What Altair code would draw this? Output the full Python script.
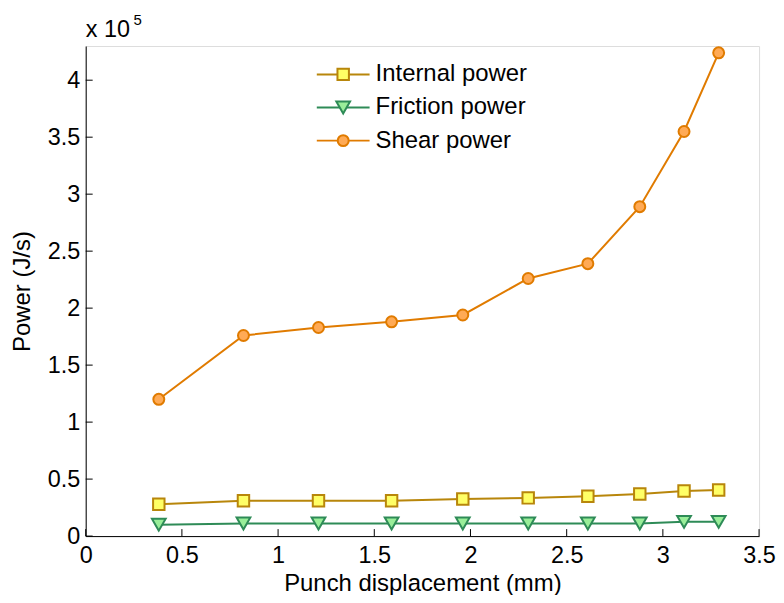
import altair as alt
import pandas as pd

# ---- data (power values in units of 10^5 J/s) ----
x_disp = [0.38, 0.82, 1.21, 1.59, 1.96, 2.30, 2.61, 2.88, 3.11, 3.29]
internal = [0.28, 0.31, 0.31, 0.31, 0.325, 0.335, 0.35, 0.37, 0.395, 0.405]
friction = [0.10, 0.11, 0.11, 0.11, 0.11, 0.11, 0.11, 0.11, 0.125, 0.125]
shear = [1.20, 1.76, 1.83, 1.88, 1.94, 2.26, 2.39, 2.89, 3.55, 4.24]
series_names = ["Internal power", "Friction power", "Shear power"]
x_ticks = [0, 0.5, 1, 1.5, 2, 2.5, 3, 3.5]
y_ticks = [0, 0.5, 1, 1.5, 2, 2.5, 3, 3.5, 4]
x_title = "Punch displacement (mm)"
y_title = "Power (J/s)"
mult_text = ["x 10"]
exp_text = ["5"]

# ---- styles ----
line_colors = ["#B8860B", "#2E8B57", "#E07B00"]
fill_colors = ["#FFFF66", "#99EE99", "#FFAA55"]
shapes = ["square", "triangle-down", "circle"]
sizes = [132, 190, 121]
FONT = "Liberation Sans"
W, H = 676, 492

values = [internal, friction, shear]
rows = []
for name, vals in zip(series_names, values):
    for i, (xv, yv) in enumerate(zip(x_disp, vals)):
        rows.append({"series": name, "x": xv, "y": yv, "i": i})
df = pd.DataFrame(rows)

xs = alt.Scale(domain=[0, 3.5], nice=False, zero=False)
ys = alt.Scale(domain=[0, 4.3], nice=False, zero=False)
color_scale = alt.Scale(domain=series_names, range=line_colors)
fill_scale = alt.Scale(domain=series_names, range=fill_colors)
shape_scale = alt.Scale(domain=series_names, range=shapes)

x_axis = alt.Axis(
    values=x_ticks, format="~g", ticks=False, tickSize=0, grid=False,
    domainColor="black", domainWidth=1, labelFontSize=23.5, labelColor="black",
    labelPadding=8, labelFlush=False, labelOverlap=False, labelFont=FONT,
    title=x_title, titleFontSize=24, titleFontWeight="normal", titleColor="black",
    titleFont=FONT, titleY=55, titleBaseline="alphabetic",
)
y_axis = alt.Axis(
    values=y_ticks, format="~g", ticks=False, tickSize=0, grid=False,
    domainColor="black", domainWidth=1, labelFontSize=23.5, labelColor="black",
    labelPadding=6, labelFlush=False, labelOverlap=False, labelFont=FONT,
    title=y_title, titleFontSize=24, titleFontWeight="normal", titleColor="black",
    titleFont=FONT, titleX=-56, titleY=H / 2, titleBaseline="alphabetic",
)

lines = alt.Chart(df).mark_line(strokeWidth=2).encode(
    x=alt.X("x:Q", scale=xs, axis=x_axis),
    y=alt.Y("y:Q", scale=ys, axis=y_axis),
    color=alt.Color("series:N", scale=color_scale, legend=None),
    order="i:Q",
)

point_layers = []
for name, sz in zip(series_names, sizes):
    point_layers.append(
        alt.Chart(df[df["series"] == name]).mark_point(
            filled=True, size=sz, strokeWidth=2, opacity=1
        ).encode(
            x=alt.X("x:Q", scale=xs, axis=x_axis),
            y=alt.Y("y:Q", scale=ys, axis=y_axis),
            fill=alt.Fill("series:N", scale=fill_scale, legend=None),
            stroke=alt.Stroke("series:N", scale=color_scale, legend=None),
            shape=alt.Shape("series:N", scale=shape_scale, legend=None),
        )
    )

# inward tick marks (MATLAB style)
ytick_layer = alt.Chart(pd.DataFrame({"y": y_ticks})).mark_rule(
    color="black", strokeWidth=1
).encode(y=alt.Y("y:Q", scale=ys, axis=y_axis), x=alt.value(0), x2=alt.value(7))
xtick_layer = alt.Chart(pd.DataFrame({"x": x_ticks})).mark_rule(
    color="black", strokeWidth=1
).encode(x=alt.X("x:Q", scale=xs, axis=x_axis), y=alt.value(H), y2=alt.value(H - 7))

mult_layer = alt.Chart(pd.DataFrame({"t": mult_text})).mark_text(
    align="left", baseline="alphabetic", fontSize=23.5, font=FONT, color="black"
).encode(x=alt.value(0), y=alt.value(-9), text="t:N")
exp_layer = alt.Chart(pd.DataFrame({"t": exp_text})).mark_text(
    align="left", baseline="alphabetic", fontSize=15, font=FONT, color="black"
).encode(x=alt.value(48), y=alt.value(-21.5), text="t:N")

main = alt.layer(lines, *point_layers, ytick_layer, xtick_layer, mult_layer, exp_layer)

# custom legend (line + marker + label), no frame
leg_df = pd.DataFrame({"series": series_names, "row": list(range(len(series_names)))})
ly = alt.Y("row:Q", scale=alt.Scale(domain=[0, 2], range=[28.5, 95], nice=False, zero=False), axis=None)
leg_rule = alt.Chart(leg_df).mark_rule(strokeWidth=2).encode(
    y=ly, x=alt.value(232), x2=alt.value(285),
    color=alt.Color("series:N", scale=color_scale, legend=None),
)
leg_points = []
for name, sz in zip(series_names, sizes):
    leg_points.append(
        alt.Chart(leg_df[leg_df["series"] == name]).mark_point(
            filled=True, size=sz, strokeWidth=2, opacity=1
        ).encode(
            y=ly, x=alt.value(258.5),
            fill=alt.Fill("series:N", scale=fill_scale, legend=None),
            stroke=alt.Stroke("series:N", scale=color_scale, legend=None),
            shape=alt.Shape("series:N", scale=shape_scale, legend=None),
        )
    )
leg_text = alt.Chart(leg_df).mark_text(
    align="left", baseline="middle", fontSize=24, font=FONT, color="black"
).encode(y=ly, x=alt.value(291), text="series:N")

legend = alt.layer(leg_rule, *leg_points, leg_text)

chart = alt.layer(main, legend).resolve_scale(y="independent").properties(
    width=W, height=H,
    autosize=alt.AutoSizeParams(type="none"),
    padding={"left": 78, "top": 37, "right": 17, "bottom": 58},
    background="white",
).configure_view(stroke=None).configure(font=FONT)

chart.save("out.html", embed_options={"renderer": "svg", "actions": False})
